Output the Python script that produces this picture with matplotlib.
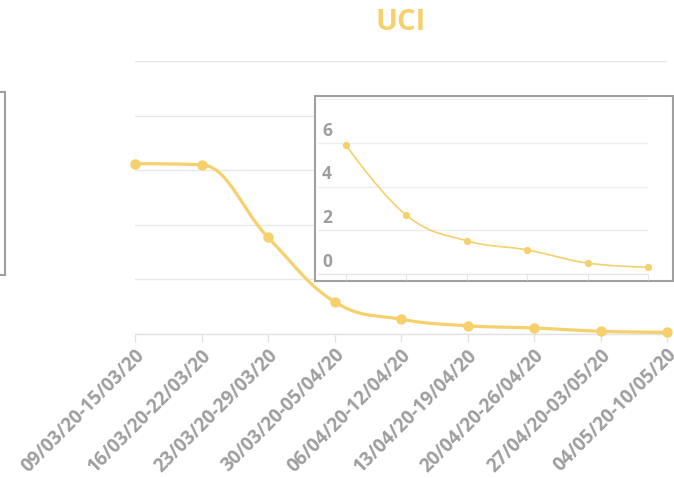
import matplotlib
matplotlib.use("Agg")
import matplotlib.pyplot as plt
import matplotlib.transforms as mtransforms
import numpy as np
from matplotlib.patches import Rectangle

title = "UCI"
categories = ["09/03/20-15/03/20", "16/03/20-22/03/20", "23/03/20-29/03/20",
              "30/03/20-05/04/20", "06/04/20-12/04/20", "13/04/20-19/04/20",
              "20/04/20-26/04/20", "27/04/20-03/05/20", "04/05/20-10/05/20"]
values = [31.2, 31.0, 17.7, 5.9, 2.7, 1.5, 1.1, 0.5, 0.3]
inset_values = [5.9, 2.69, 1.52, 1.1, 0.5, 0.31]
inset_yticks = [0, 2, 4, 6]
main_yticks = [0, 10, 20, 30, 40, 50]

COLOR = "#F6D06C"
GRID = "#e8e8e8"
LABEL = "#9e9e9e"
FONT = "Open Sans"

W, H = 674, 478


def spline_path(xs, ys, smoothing=1.5, n=30):
    xs = list(map(float, xs)); ys = list(map(float, ys))
    m = len(xs)
    lc = [None] * m
    rc = [None] * m
    for i in range(m):
        x, y = xs[i], ys[i]
        if i == 0 or i == m - 1:
            lc[i] = (x, y); rc[i] = (x, y)
            continue
        lx, ly = xs[i - 1], ys[i - 1]
        nx, ny = xs[i + 1], ys[i + 1]
        d = smoothing + 1
        lcx = (smoothing * x + lx) / d
        lcy = (smoothing * y + ly) / d
        rcx = (smoothing * x + nx) / d
        rcy = (smoothing * y + ny) / d
        if rcx != lcx:
            corr = ((rcy - lcy) * (rcx - x)) / (rcx - lcx) + y - rcy
            lcy += corr
            rcy += corr
        if lcy > ly and lcy > y:
            lcy = max(ly, y); rcy = 2 * y - lcy
        elif lcy < ly and lcy < y:
            lcy = min(ly, y); rcy = 2 * y - lcy
        if rcy > ny and rcy > y:
            rcy = max(ny, y); lcy = 2 * y - rcy
        elif rcy < ny and rcy < y:
            rcy = min(ny, y); lcy = 2 * y - rcy
        lc[i] = (lcx, lcy); rc[i] = (rcx, rcy)
    px, py = [xs[0]], [ys[0]]
    t = np.linspace(0, 1, n)[1:]
    for i in range(1, m):
        p0 = (xs[i - 1], ys[i - 1]); p1 = rc[i - 1]; p2 = lc[i]; p3 = (xs[i], ys[i])
        bx = (1 - t) ** 3 * p0[0] + 3 * (1 - t) ** 2 * t * p1[0] + 3 * (1 - t) * t ** 2 * p2[0] + t ** 3 * p3[0]
        by = (1 - t) ** 3 * p0[1] + 3 * (1 - t) ** 2 * t * p1[1] + 3 * (1 - t) * t ** 2 * p2[1] + t ** 3 * p3[1]
        px.extend(bx); py.extend(by)
    return np.array(px), np.array(py)


fig = plt.figure(figsize=(W / 100, H / 100), dpi=100)


def fx(px):
    return px / W


def fy(py):
    return 1 - py / H


# main axes
ax = fig.add_axes([fx(135), fy(334), fx(667) - fx(135), fy(61) - fy(334)])
xs = np.arange(len(values))
sx, sy = spline_path(xs, values)
ax.plot(sx, sy, color=COLOR, lw=2.3, solid_capstyle="round", zorder=3, clip_on=False)
ax.plot(xs, values, "o", color=COLOR, ms=6.5, zorder=4, clip_on=False)
ax.set_xlim(0, len(values) - 1)
ax.set_ylim(main_yticks[0], main_yticks[-1])
ax.set_yticks(main_yticks)
ax.yaxis.grid(True, color=GRID, lw=1)
ax.tick_params(axis="y", left=False, labelleft=False)
for s in ["top", "right", "left"]:
    ax.spines[s].set_visible(False)
ax.spines["bottom"].set_color("#e2e2e2")
ax.spines["bottom"].set_linewidth(1)
ax.set_xticks(xs)
ax.set_xticklabels(categories, rotation=45, ha="right", va="top", rotation_mode="anchor",
                   fontsize=13.5, fontweight="bold", color=LABEL, family=FONT)
ax.tick_params(axis="x", direction="out", length=6, color="#e2e2e2", width=1, pad=2)
ax.set_axisbelow(True)
ax.set_facecolor("none")
fig.text(fx(401), fy(22), title, fontsize=21, fontweight="bold", color=COLOR,
         family=FONT, ha="center", va="center")

# inset box
fig.patches.append(Rectangle((fx(315), fy(281)), fx(673) - fx(315), fy(96) - fy(281),
                             transform=fig.transFigure, facecolor="white",
                             edgecolor="#a0a0a0", lw=1.5, zorder=5))
# left partial box
fig.patches.append(Rectangle((fx(-50), fy(275)), fx(5) - fx(-50), fy(92) - fy(275),
                             transform=fig.transFigure, facecolor="white",
                             edgecolor="#a0a0a0", lw=1.5, zorder=5))

# inset axes
iax = fig.add_axes([fx(318), fy(274), fx(648) - fx(318), fy(99) - fy(274)], zorder=6)
ix = np.arange(len(inset_values))
isx, isy = spline_path(ix, inset_values)
iax.plot(isx, isy, color=COLOR, lw=1.2, zorder=3, clip_on=False)
iax.plot(ix, inset_values, "o", color=COLOR, ms=4.2, zorder=4, clip_on=False)
iax.set_xlim(-0.46, len(inset_values) - 1)
iax.set_ylim(0, 8)
iax.set_yticks([0, 2, 4, 6, 8])
iax.yaxis.grid(True, color="#eeeeee", lw=1)
iax.tick_params(axis="y", left=False, labelleft=False)
iax.set_xticks(ix)
iax.tick_params(axis="x", direction="out", length=4, color="#e6e6e6", labelbottom=False)
for s in ["top", "right", "left"]:
    iax.spines[s].set_visible(False)
iax.spines["bottom"].set_color("#e6e6e6")
iax.set_facecolor("none")
iax.set_axisbelow(True)
trans = mtransforms.blended_transform_factory(iax.transAxes, iax.transData)
for v in inset_yticks:
    iax.text(0.012, v + 0.55, str(v), transform=trans, ha="left", va="center",
             fontsize=12.5, fontweight="bold", color=LABEL, family=FONT)

fig.savefig("out.png", dpi=100)
